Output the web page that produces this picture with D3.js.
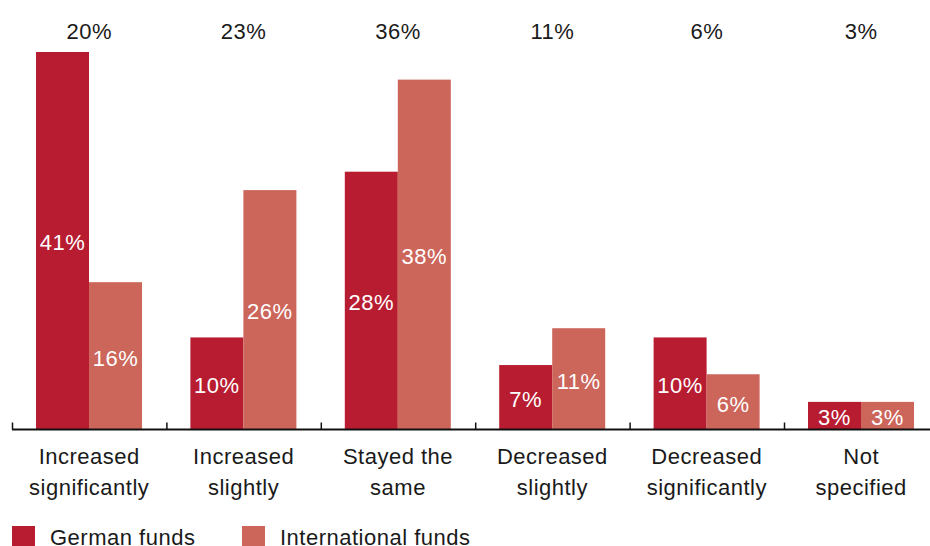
<!DOCTYPE html>
<html>
<head>
<meta charset="utf-8">
<script src="https://cdn.jsdelivr.net/npm/d3@7"></script>
<style>
  body { margin: 0; background: #fff; }
  svg { display: block; font-family: "Liberation Sans", Arial, Helvetica, sans-serif; letter-spacing: 0.5px; }
</style>
</head>
<body>
<div id="chart"></div>
<script>
// Data
var categories = [
  ["Increased", "significantly"],
  ["Increased", "slightly"],
  ["Stayed the", "same"],
  ["Decreased", "slightly"],
  ["Decreased", "significantly"],
  ["Not", "specified"]
];
var series = ["German funds", "International funds"];
var germanFunds = [41, 10, 28, 7, 10, 3];
var internationalFunds = [16, 26, 38, 11, 6, 3];
var totals = [20, 23, 36, 11, 6, 3];

var colors = {"German funds": "#b81c31", "International funds": "#cc655a"};

width = 930;
height = 546;

var baseline = 429.5;
var step = 154.4;
var left = 12;
var fontSize = 22;

var svg = d3.select("#chart")
  .append("svg")
  .attr("width", width)
  .attr("height", height);

// Scales
var idx = d3.range(categories.length);
var x0 = d3.scaleBand().domain(idx).range([left, left + step * categories.length]).padding(0);
var x1 = d3.scaleBand().domain(series).range([24, 130]).padding(0);
var y = d3.scaleLinear().domain([0, 41]).range([baseline, 52]);

var rows = idx.map(i => ({
  i: i,
  values: [
    {key: series[0], value: germanFunds[i]},
    {key: series[1], value: internationalFunds[i]}
  ]
}));

// Bars
var groups = svg.selectAll("g.group")
  .data(rows)
  .enter().append("g")
  .attr("class", "group")
  .attr("transform", d => "translate(" + x0(d.i) + ",0)");

groups.selectAll("rect")
  .data(d => d.values)
  .enter().append("rect")
  .attr("x", d => x1(d.key))
  .attr("y", d => y(d.value))
  .attr("width", x1.bandwidth())
  .attr("height", d => baseline - y(d.value))
  .attr("fill", d => colors[d.key]);

groups.selectAll("text.val")
  .data(d => d.values)
  .enter().append("text")
  .attr("class", "val")
  .attr("x", d => x1(d.key) + x1.bandwidth() / 2)
  .attr("y", d => (y(d.value) + baseline) / 2)
  .attr("dy", "0.44em")
  .attr("text-anchor", "middle")
  .attr("font-size", fontSize)
  .attr("fill", "#fff")
  .text(d => d.value + "%");

// Totals above groups
svg.selectAll("text.total")
  .data(totals)
  .enter().append("text")
  .attr("class", "total")
  .attr("x", (d, i) => x0(i) + x0.bandwidth() / 2)
  .attr("y", 38.5)
  .attr("text-anchor", "middle")
  .attr("font-size", fontSize)
  .attr("fill", "#1a1a1a")
  .text(d => d + "%");

// Axis
var xAxis = d3.axisBottom(x0).tickSize(0).tickFormat("");
var axisG = svg.append("g")
  .attr("transform", "translate(0," + baseline + ")")
  .call(xAxis);
axisG.select(".domain").remove();
axisG.append("line")
  .attr("x1", left).attr("x2", width)
  .attr("stroke", "#111").attr("stroke-width", 2);
axisG.selectAll("line.tk")
  .data(idx)
  .enter().append("line")
  .attr("class", "tk")
  .attr("x1", d => x0(d) + 0.5).attr("x2", d => x0(d) + 0.5)
  .attr("y1", -7).attr("y2", 0)
  .attr("stroke", "#111").attr("stroke-width", 1.5);

// Category labels
var labels = svg.selectAll("text.cat")
  .data(categories)
  .enter().append("text")
  .attr("class", "cat")
  .attr("x", (d, i) => x0(i) + x0.bandwidth() / 2)
  .attr("y", 464)
  .attr("text-anchor", "middle")
  .attr("font-size", fontSize)
  .attr("fill", "#1a1a1a");
labels.selectAll("tspan")
  .data(d => d)
  .enter().append("tspan")
  .attr("x", function() { return d3.select(this.parentNode).attr("x"); })
  .attr("dy", (d, i) => i === 0 ? 0 : 31)
  .text(d => d);

// Legend
var legendX = [12, 242];
var legend = svg.selectAll("g.legend")
  .data(series)
  .enter().append("g")
  .attr("class", "legend")
  .attr("transform", (d, i) => "translate(" + legendX[i] + ",526)");
legend.append("rect")
  .attr("width", 23).attr("height", 23)
  .attr("fill", d => colors[d]);
legend.append("text")
  .attr("x", 38)
  .attr("y", 19)
  .attr("font-size", fontSize)
  .attr("fill", "#1a1a1a")
  .text(d => d);
</script>
</body>
</html>
